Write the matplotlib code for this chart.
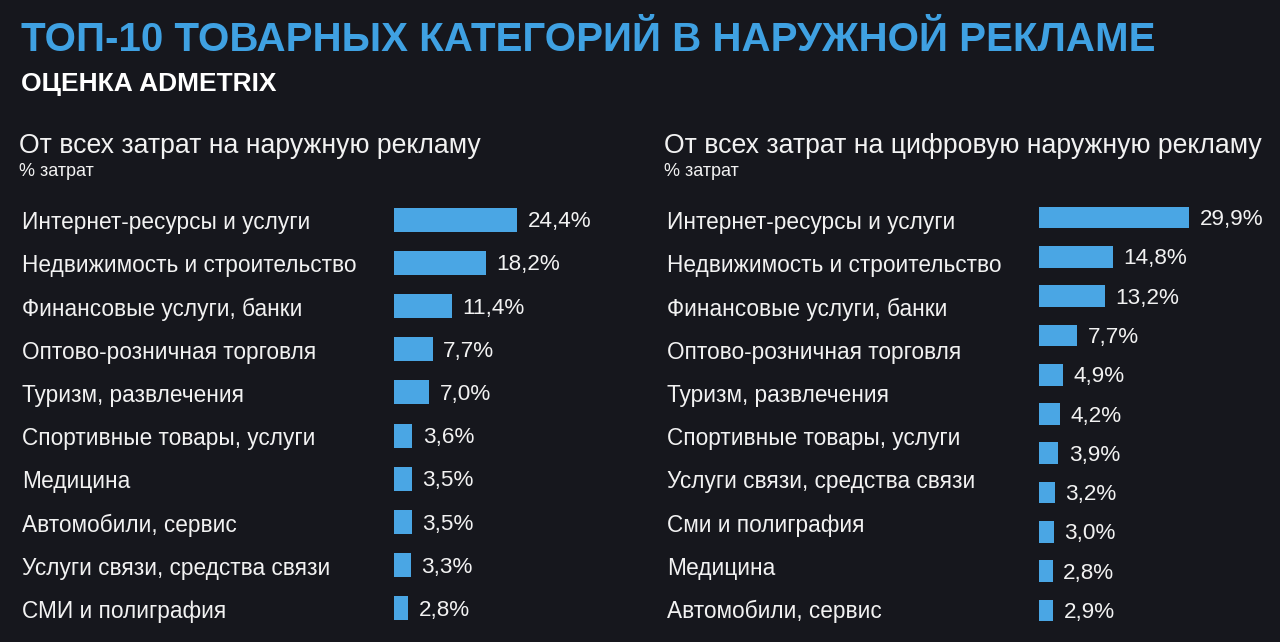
import matplotlib
matplotlib.use("Agg")
import matplotlib.pyplot as plt

plt.rcParams['font.family'] = ['Liberation Sans', 'DejaVu Sans']

# ── data ──────────────────────────────────────────────────────────────────────
TITLE = 'ТОП-10 ТОВАРНЫХ КАТЕГОРИЙ В НАРУЖНОЙ РЕКЛАМЕ'
SUBTITLE = 'ОЦЕНКА ADMETRIX'
UNIT = '% затрат'

left_title = 'От всех затрат на наружную рекламу'
left_cats = ['Интернет-ресурсы и услуги', 'Недвижимость и строительство',
             'Финансовые услуги, банки', 'Оптово-розничная торговля',
             'Туризм, развлечения', 'Спортивные товары, услуги', 'Медицина',
             'Автомобили, сервис', 'Услуги связи, средства связи',
             'СМИ и полиграфия']
left_vals = [24.4, 18.2, 11.4, 7.7, 7.0, 3.6, 3.5, 3.5, 3.3, 2.8]

right_title = 'От всех затрат на цифровую наружную рекламу'
right_cats = ['Интернет-ресурсы и услуги', 'Недвижимость и строительство',
              'Финансовые услуги, банки', 'Оптово-розничная торговля',
              'Туризм, развлечения', 'Спортивные товары, услуги',
              'Услуги связи, средства связи', 'Сми и полиграфия', 'Медицина',
              'Автомобили, сервис']
right_vals = [29.9, 14.8, 13.2, 7.7, 4.9, 4.2, 3.9, 3.2, 3.0, 2.8, 2.9]

# ── style ─────────────────────────────────────────────────────────────────────
BG = '#16171d'
BLUE = '#4aa6e4'
TITLE_COL = '#3fa1e2'
TXT = '#f2f2f2'
W, H = 1280, 642
PX_PER_PCT = 5.05

fig = plt.figure(figsize=(W / 100, H / 100), dpi=100)
fig.patch.set_facecolor(BG)


def box(x0, y0, x1, y1):
    # pixel box (top-left origin) -> figure fraction rect
    return [x0 / W, 1 - y1 / H, (x1 - x0) / W, (y1 - y0) / H]


def fmt(v):
    return f'{v:.1f}'.replace('.', ',') + '%'


def bar_panel(x0, y0, y1, vals, bar_h):
    ax = fig.add_axes(box(x0, y0, x0 + 230, y1))
    ax.set_facecolor('none')
    n = len(vals)
    ax.barh(range(n), vals, height=bar_h, color=BLUE, edgecolor='none')
    ax.set_xlim(0, 230 / PX_PER_PCT)
    ax.set_ylim(n - 0.5, -0.5)
    for i, v in enumerate(vals):
        ax.annotate(fmt(v), (v, i), xytext=(7.5, -1.5), textcoords='offset points',
                    ha='left', va='center', color=TXT, fontsize=16.2)
    ax.axis('off')
    return ax


def label_panel(x0, y0, y1, cats):
    ax = fig.add_axes(box(x0, y0, x0 + 350, y1))
    ax.set_facecolor('none')
    n = len(cats)
    ax.set_xlim(0, 1)
    ax.set_ylim(n - 0.5, -0.5)
    for i, c in enumerate(cats):
        ax.text(0, i + 0.07, c, ha='left', va='center', color=TXT, fontsize=16.3)
    ax.axis('off')


# headings
fig.text(21 / W, 1 - 40 / H, TITLE, color=TITLE_COL, fontsize=29,
         fontweight='bold', ha='left', va='center')
fig.text(21 / W, 1 - 84 / H, SUBTITLE, color='white', fontsize=19,
         fontweight='bold', ha='left', va='center')

for x, t in [(19, left_title), (664, right_title)]:
    fig.text(x / W, 1 - 146 / H, t, color=TXT, fontsize=19.2,
             ha='left', va='center')
    fig.text(x / W, 1 - 172 / H, UNIT, color=TXT, fontsize=13,
             ha='left', va='center')

# left panel: 10 rows
label_panel(22, 198, 630, left_cats)
bar_panel(394, 198, 630, left_vals, 0.56)

# right panel: labels and bars on their own grids
label_panel(667, 198, 630, right_cats)
bar_panel(1038.5, 198, 630, right_vals, 0.55)

fig.savefig('out.png', dpi=100, facecolor=BG)
